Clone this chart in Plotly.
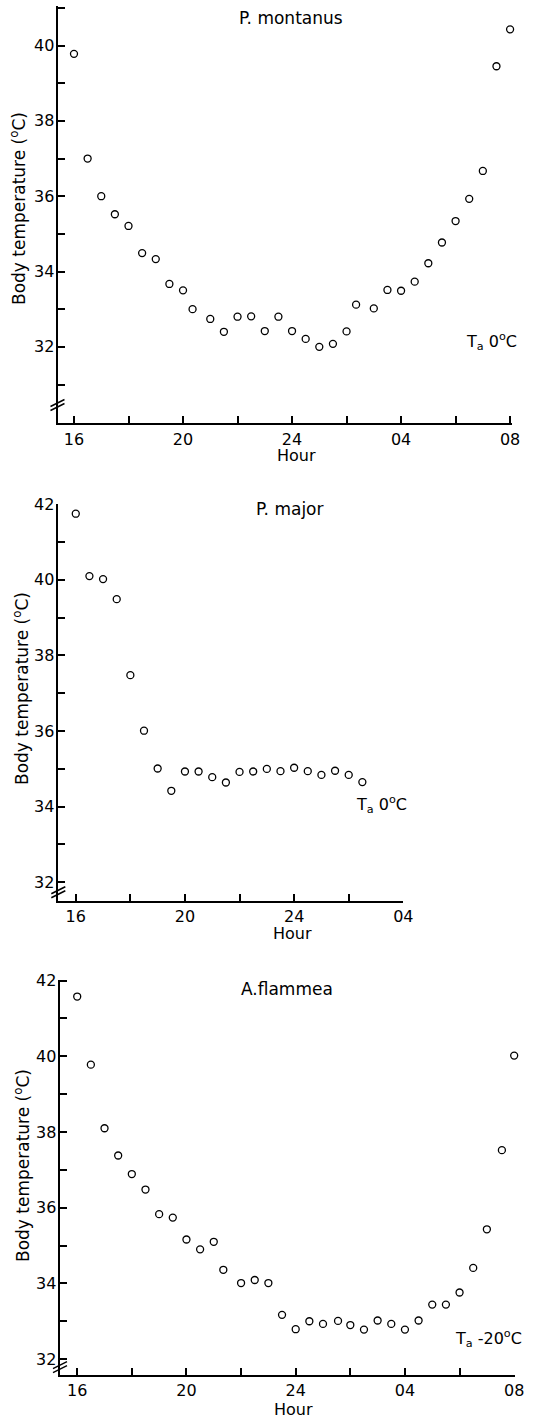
import plotly.graph_objects as go

# ---------------- data ----------------
# hour of day, continuing past midnight (25 = 01, 28 = 04, 32 = 08)
montanus_hour = [16.0, 16.5, 17.0, 17.5, 18.0, 18.5, 19.0, 19.5, 20.0, 20.35, 21.0,
                 21.5, 22.0, 22.5, 23.0, 23.5, 24.0, 24.5, 25.0, 25.5, 26.0, 26.35,
                 27.0, 27.5, 28.0, 28.5, 29.0, 29.5, 30.0, 30.5, 31.0, 31.5, 32.0]
montanus_temp = [39.78, 37.0, 36.0, 35.52, 35.21, 34.49, 34.33, 33.67, 33.50, 33.0, 32.74,
                 32.40, 32.80, 32.81, 32.42, 32.80, 32.42, 32.21, 32.0, 32.08, 32.41, 33.12,
                 33.02, 33.51, 33.49, 33.73, 34.22, 34.77, 35.34, 35.93, 36.67, 39.45, 40.43]

major_hour = [16.0, 16.5, 17.0, 17.5, 18.0, 18.5, 19.0, 19.5, 20.0, 20.5, 21.0,
              21.5, 22.0, 22.5, 23.0, 23.5, 24.0, 24.5, 25.0, 25.5, 26.0, 26.5]
major_temp = [41.75, 40.10, 40.02, 39.49, 37.48, 36.01, 35.01, 34.42, 34.93, 34.93, 34.78,
              34.64, 34.92, 34.93, 35.0, 34.94, 35.03, 34.94, 34.84, 34.95, 34.84, 34.65]

flammea_hour = [16.0, 16.5, 17.0, 17.5, 18.0, 18.5, 19.0, 19.5, 20.0, 20.5, 21.0,
                21.35, 22.0, 22.5, 23.0, 23.5, 24.0, 24.5, 25.0, 25.55, 26.0, 26.5,
                27.0, 27.5, 28.0, 28.5, 29.0, 29.5, 30.0, 30.5, 31.0, 31.55, 32.0]
flammea_temp = [41.58, 39.78, 38.10, 37.38, 36.89, 36.48, 35.83, 35.74, 35.16, 34.90, 35.10,
                34.36, 34.01, 34.09, 34.01, 33.17, 32.79, 33.0, 32.93, 33.01, 32.90, 32.78,
                33.02, 32.93, 32.78, 33.02, 33.44, 33.44, 33.76, 34.41, 35.43, 37.52, 40.02]

x_tickvals = [16, 20, 24, 28, 32]
x_ticktext = ["16", "20", "24", "04", "08"]
y_tickvals = [32, 34, 36, 38, 40, 42]

titles = ["P. montanus", "P. major", "A.flammea"]
ta_labels = ["T<sub>a</sub> 0<sup>o</sup>C", "T<sub>a</sub> 0<sup>o</sup>C", "T<sub>a</sub> -20<sup>o</sup>C"]

# ---------------- layout geometry ----------------
W, H = 533, 1419
FONT = "DejaVu Sans"

def px_x(p):
    return p / W

def px_y(p):
    return 1 - p / H

panels = [
    dict(hours=montanus_hour, temps=montanus_temp, xdom=(57.5, 512), ydom=(6, 423.3),
         xr=[15.395, 32.07], yr=[29.97, 41.05], brk=30.47,
         title_xy=(291, 18), hour_xy=(296, 455), ylab_xy=(18, 209), ta_xy=(491, 341)),
    dict(hours=major_hour, temps=major_temp, xdom=(58.3, 403.3), ydom=(503.5, 901),
         xr=[15.36, 28.0], yr=[31.505, 42.02], brk=31.75,
         title_xy=(290, 509), hour_xy=(292, 933), ylab_xy=(21, 689), ta_xy=(381, 805)),
    dict(hours=flammea_hour, temps=flammea_temp, xdom=(60, 515), ydom=(979.5, 1375),
         xr=[15.37, 32.03], yr=[31.58, 42.03], brk=31.8,
         title_xy=(287, 989), hour_xy=(293, 1409), ylab_xy=(22, 1166), ta_xy=(488, 1338)),
]

fig = go.Figure()
annotations = []
shapes = []

for i, p in enumerate(panels, start=1):
    xa = "x" if i == 1 else f"x{i}"
    ya = "y" if i == 1 else f"y{i}"
    fig.add_trace(go.Scatter(
        x=p["hours"], y=p["temps"], mode="markers", xaxis=xa, yaxis=ya, cliponaxis=False,
        marker=dict(symbol="circle-open", size=7, color="black", line=dict(width=1.3, color="black")),
        showlegend=False, hoverinfo="x+y"))

    axis_common = dict(showgrid=False, zeroline=False, showline=True, linecolor="black",
                       linewidth=2, ticks="inside", ticklen=7, tickwidth=1.5, tickcolor="black",
                       automargin=False,
                       tickfont=dict(family=FONT, size=16, color="black"))
    xkey = "xaxis" if i == 1 else f"xaxis{i}"
    ykey = "yaxis" if i == 1 else f"yaxis{i}"
    xt = [v for v in x_tickvals if p["xr"][0] <= v <= p["xr"][1] + 0.01]
    yt = [v for v in y_tickvals if p["yr"][0] <= v <= p["yr"][1] + 0.05]
    fig.update_layout(**{
        xkey: dict(domain=[px_x(p["xdom"][0]), px_x(p["xdom"][1])], range=p["xr"],
                   anchor=ya, tickmode="array", tickvals=xt,
                   ticktext=[x_ticktext[x_tickvals.index(v)] for v in xt],
                   minor=dict(tickmode="array", tickvals=[18, 22, 26, 30], ticks="inside",
                              ticklen=7, tickwidth=1.5, tickcolor="black"),
                   **axis_common),
        ykey: dict(domain=[px_y(p["ydom"][1]), px_y(p["ydom"][0])], range=p["yr"],
                   anchor=xa, tickmode="array", tickvals=yt, showticklabels=False,
                   minor=dict(tickmode="array", tickvals=[31, 33, 35, 37, 39, 41], ticks="inside",
                              ticklen=7, tickwidth=1.5, tickcolor="black"),
                   **axis_common),
    })

    # y tick labels, placed through the axis scale just left of the axis line
    for v in yt:
        annotations.append(dict(text=str(v), xref=f"{xa} domain", x=0, xshift=-2,
                                yref=ya, y=v, xanchor="right", yanchor="middle", showarrow=False,
                                font=dict(family=FONT, size=16, color="black")))

    # axis break marks "//" on the y axis
    xdref = f"{xa} domain"
    for off in (-2, 2):
        shapes.append(dict(type="line", xref=xdref, yref=ya, xsizemode="pixel", ysizemode="pixel",
                           xanchor=0, yanchor=p["brk"], x0=-7, x1=7, y0=-4 + off, y1=3 + off,
                           line=dict(color="black", width=1.5)))

    annotations.append(dict(text=titles[i - 1], x=px_x(p["title_xy"][0]), y=px_y(p["title_xy"][1]),
                            xref="paper", yref="paper", showarrow=False, xanchor="center", yanchor="middle",
                            font=dict(family=FONT, size=17, color="black")))
    annotations.append(dict(text="Hour", x=px_x(p["hour_xy"][0]), y=px_y(p["hour_xy"][1]),
                            xref="paper", yref="paper", showarrow=False, xanchor="center", yanchor="middle",
                            font=dict(family=FONT, size=16, color="black")))
    annotations.append(dict(text="Body temperature (<sup>o</sup>C)", x=px_x(p["ylab_xy"][0]),
                            y=px_y(p["ylab_xy"][1]), xref="paper", yref="paper", showarrow=False,
                            textangle=-90, xanchor="center", yanchor="middle",
                            font=dict(family=FONT, size=17, color="black")))
    annotations.append(dict(text=ta_labels[i - 1], x=px_x(p["ta_xy"][0]), y=px_y(p["ta_xy"][1]),
                            xref="paper", yref="paper", showarrow=False, xanchor="center", yanchor="middle",
                            font=dict(family=FONT, size=16, color="black")))

fig.update_layout(width=W, height=H, margin=dict(l=0, r=0, t=0, b=0),
                  paper_bgcolor="white", plot_bgcolor="white",
                  annotations=annotations, shapes=shapes, showlegend=False)

fig.write_html("out.html")
